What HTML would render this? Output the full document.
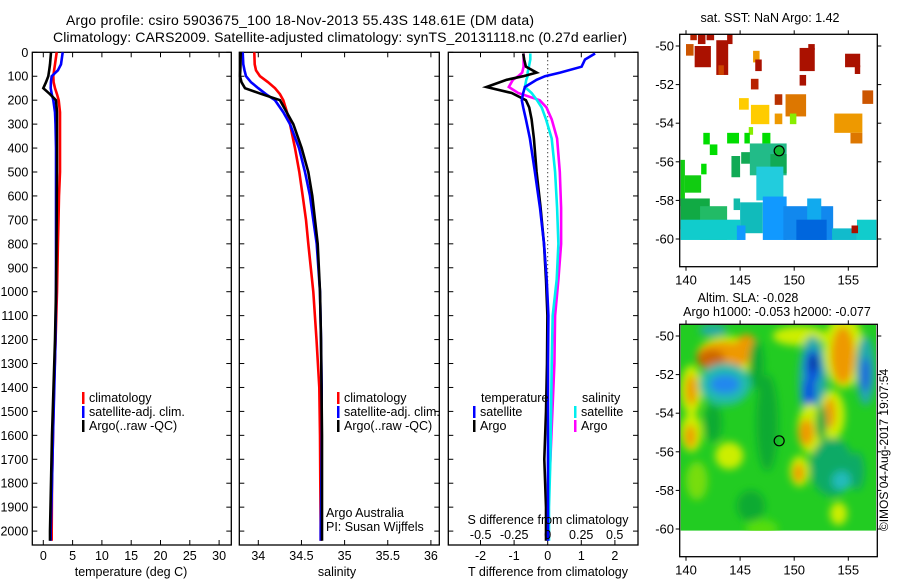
<!DOCTYPE html>
<html><head><meta charset="utf-8"><style>
html,body{margin:0;padding:0;background:#fff;width:900px;height:580px;overflow:hidden;}
svg{display:block;font-family:"Liberation Sans",sans-serif;}
</style></head><body>
<svg id="fig" width="900" height="580" viewBox="0 0 900 580">
<defs>
<filter id="blur" x="-50%" y="-50%" width="200%" height="200%"><feGaussianBlur stdDeviation="4"/></filter>
<clipPath id="slaClip"><rect x="680.6" y="325" width="195.4" height="205.7"/></clipPath>
</defs>
<text x="300" y="25" font-size="14" text-anchor="middle" textLength="468">Argo profile: csiro 5903675_100 18-Nov-2013 55.43S 148.61E (DM data)</text>
<text x="340" y="42" font-size="14" text-anchor="middle" textLength="574">Climatology: CARS2009. Satellite-adjusted climatology: synTS_20131118.nc (0.27d earlier)</text>
<g id="g1"></g>
<g id="g2"></g>
<g id="g3"></g>
<g id="m1"></g>
<g id="m2"></g>
<text transform="translate(888,450) rotate(-90)" font-size="12" text-anchor="middle">©IMOS 04-Aug-2017 19:07:54</text>
</svg>
<script>
// ---- profile data ----
const depths = [0,50,75,100,125,150,175,200,250,300,400,500,600,700,800,1000,1200,1400,1600,1800,2000,2040];
const tempArgo = [1.31,1.14,1.0,0.85,0.46,0.0,1.14,2.17,2.34,2.34,2.34,2.34,2.3,2.28,2.25,2.17,2.0,1.74,1.48,1.31,1.14,1.14];
const tempClim = [2.29,2.0,1.85,1.71,1.75,2.0,2.34,2.63,2.85,2.85,2.85,2.85,2.68,2.6,2.5,2.34,2.1,1.83,1.66,1.48,1.43,1.43];
const tempSat  = [3.31,3.02,2.5,1.43,1.3,1.26,1.45,1.71,2.0,2.08,2.17,2.17,2.17,2.17,2.17,2.17,2.08,1.88,1.66,1.48,1.26,1.26];
const salArgo = [33.796,33.794,33.791,33.788,33.805,33.846,34.043,34.251,34.329,34.406,34.503,34.579,34.626,34.657,34.688,34.715,34.727,34.732,34.738,34.738,34.738,34.738];
const salClim = [33.954,33.958,33.973,34.02,34.112,34.194,34.251,34.29,34.333,34.367,34.425,34.475,34.514,34.553,34.579,34.637,34.674,34.707,34.715,34.718,34.723,34.723];
const salSat  = [33.819,33.826,33.84,33.857,33.915,34.0,34.089,34.194,34.29,34.367,34.472,34.541,34.599,34.637,34.677,34.715,34.727,34.735,34.735,34.73,34.723,34.723];
const diffDepths = [5,30,60,85,100,115,145,170,200,230,280,360,500,650,800,950,1100,1300,1500,1700,1900,2040];
const dTSat  = [1.41,1.11,1.01,0.37,-0.08,-0.33,-0.68,-0.73,-0.77,-0.73,-0.65,-0.53,-0.38,-0.23,-0.11,-0.03,0.02,0.01,0.01,0.01,0.01,0.01];
const dTArgo = [-0.73,-0.70,-0.65,-0.33,-0.73,-1.22,-1.82,-1.07,-0.65,-0.55,-0.48,-0.41,-0.33,-0.21,-0.11,-0.05,-0.01,-0.02,-0.05,-0.1,-0.05,-0.05];
const dSSat  = [-0.13,-0.13,-0.14,-0.15,-0.15,-0.16,-0.17,-0.12,-0.08,-0.045,-0.013,0.03,0.055,0.07,0.08,0.067,0.037,0.03,0.025,0.02,0.01,0.01];
const dSArgo = [-0.18,-0.18,-0.18,-0.19,-0.22,-0.26,-0.29,-0.22,-0.06,-0.01,0.03,0.07,0.09,0.10,0.10,0.08,0.055,0.05,0.035,0.02,0.0,0.0];
const depthTicks = [0,100,200,300,400,500,600,700,800,900,1000,1100,1200,1300,1400,1500,1600,1700,1800,1900,2000];
const tempTicks = [0,5,10,15,20,25,30];
const salTicks = [34,34.5,35,35.5,36];
const dTTicks = [-2,-1,0,1,2];
const dSTicks = [-0.5,-0.25,0,0.25,0.5];
// ---- map data ----
const lonTicks = [140,145,150,155];
const latTicks = [-50,-52,-54,-56,-58,-60];
const argoLon = 148.61, argoLat = -55.43;
// SST blocks: [lonW, lonE, latN, latS, colour]
const sstBlocks = [
[140.0,140.7,-49.9,-50.5,'#cc5500'],[140.4,141.0,-49.4,-49.7,'#b82200'],[141.1,141.8,-49.4,-49.9,'#aa1100'],[141.9,142.6,-49.4,-49.7,'#aa1100'],
[140.8,142.3,-50.0,-51.1,'#aa1100'],[142.8,143.9,-49.7,-51.5,'#aa1100'],[143.8,144.3,-49.4,-49.9,'#aa1100'],[143.0,143.5,-51.0,-51.5,'#cc4400'],
[146.2,146.8,-50.25,-50.85,'#ee9900'],[146.4,147.0,-50.7,-51.3,'#aa1100'],[146.0,146.7,-51.7,-52.25,'#b82200'],[148.2,148.9,-52.5,-53.05,'#b83000'],
[150.5,151.9,-50.1,-51.3,'#aa1100'],[151.3,151.9,-49.9,-50.2,'#aa1100'],[150.5,151.1,-51.5,-52.05,'#aa1100'],[154.7,156.1,-50.4,-51.1,'#aa1100'],[155.6,156.1,-51.0,-51.45,'#aa1100'],
[156.3,157.3,-52.3,-53.0,'#cc5500'],[149.2,151.1,-52.5,-53.65,'#dd7700'],[148.2,148.9,-53.5,-54.05,'#ee9900'],[153.7,156.3,-53.5,-54.5,'#ee9900'],[155.2,156.3,-54.5,-55.05,'#dd7700'],
[144.9,145.8,-52.7,-53.3,'#ffcc00'],[146.0,147.7,-53.05,-54.05,'#ffcc00'],[149.6,150.2,-53.5,-54.05,'#88ee00'],[145.8,146.2,-54.2,-54.6,'#88ee00'],
[141.6,142.2,-54.5,-55.1,'#00dd00'],[142.2,142.9,-55.1,-55.65,'#00dd00'],[143.8,144.9,-54.5,-55.05,'#00dd00'],[145.4,145.9,-54.5,-55.05,'#00dd00'],[147.05,147.8,-54.5,-55.05,'#00dd00'],
[139.5,139.9,-55.9,-58.3,'#11cc11'],[139.9,141.4,-56.7,-57.6,'#11cc11'],[141.4,141.9,-56.1,-56.65,'#00dd00'],
[144.2,145.0,-55.7,-56.8,'#11aa55'],[145.1,146.4,-55.5,-56.1,'#11aa55'],[145.9,149.3,-55.05,-56.7,'#22bb88'],[147.8,149.3,-55.6,-56.6,'#11aa55'],
[139.5,142.2,-57.9,-59.5,'#11aa44'],[141.3,143.8,-58.3,-60.05,'#22bb66'],[146.5,149.0,-56.25,-58.0,'#22ccdd'],
[139.5,145.0,-59.0,-60.05,'#11cccc'],[144.4,145.0,-57.9,-58.5,'#11bbaa'],[145.0,147.1,-58.1,-59.7,'#11bbbb'],[155.8,157.6,-59.0,-60.05,'#11cccc'],
[147.1,149.3,-57.8,-60.05,'#1199ff'],[149.0,153.6,-58.3,-60.05,'#1188ee'],[151.2,152.5,-57.9,-59.0,'#11aaee'],[150.2,153.0,-59.0,-60.05,'#0066dd'],
[153.5,155.8,-59.45,-60.05,'#11bbcc'],[144.7,145.5,-59.3,-60.05,'#1199ff'],[155.3,155.9,-59.3,-59.7,'#aa1100']
];
// SLA blobs: [lon, lat, rLon, rLat, colour]
const slaBlobs = [
[150.5,-50.0,2.5,0.5,'#ccee00'],[144.0,-51.0,3.0,1.0,'#ccee00'],[143.5,-51.0,2.5,0.7,'#ee9900'],[142.3,-51.2,1.3,0.5,'#cc6600'],[145.6,-50.6,1.0,0.7,'#ee9900'],
[140.5,-52.8,1.0,1.3,'#ccee00'],[140.5,-52.8,0.5,0.8,'#ee9900'],
[143.6,-52.5,2.4,1.1,'#22bbaa'],[143.6,-52.5,1.4,0.5,'#2288ee'],[142.5,-49.7,1.3,0.3,'#22aaaa'],
[151.7,-52.3,1.3,2.3,'#22aaaa'],[151.7,-51.6,0.7,0.9,'#1155dd'],[151.4,-52.9,0.6,0.8,'#1155dd'],[151.8,-51.4,0.35,0.45,'#113399'],
[154.6,-50.8,1.9,1.9,'#ccee00'],[154.5,-51.0,1.1,1.5,'#ee9900'],[156.6,-51.8,0.9,1.8,'#22aaaa'],[156.6,-52.0,0.45,0.9,'#2266dd'],
[140.5,-55.0,1.0,1.0,'#ccee00'],[140.4,-55.2,0.5,0.6,'#ee9900'],[144.0,-56.2,1.3,0.7,'#ccee00'],
[151.5,-54.8,1.2,1.3,'#ccee00'],[151.1,-55.0,0.7,0.7,'#ee9900'],[153.5,-54.1,1.2,1.3,'#ccee00'],[153.3,-54.0,0.5,0.8,'#ee9900'],[152.5,-54.5,0.5,0.9,'#11aa44'],
[150.5,-57.0,0.9,0.8,'#ccee00'],[150.4,-57.1,0.5,0.5,'#ee9900'],[152.4,-56.8,0.8,0.8,'#ee9900'],
[153.5,-56.8,2.0,1.5,'#11aa66'],[154.4,-57.5,0.9,0.5,'#22bbbb'],[155.8,-57,0.7,1.0,'#11aa66'],[154.1,-59.2,0.8,0.6,'#ccee00'],
[147.5,-54.5,1.0,2.5,'#11aa33'],[146.5,-51.5,0.7,1.3,'#11aa33'],[142.5,-54.5,0.8,1.0,'#11aa33'],[146.0,-58.8,1.3,0.8,'#11aa33'],
[141.0,-57.5,1.0,1.0,'#77dd11'],[147.0,-60.0,1.5,0.5,'#55dd11']
];

const NS='http://www.w3.org/2000/svg';
function mk(parent, tag, attrs){const e=document.createElementNS(NS,tag);for(const k in attrs)e.setAttribute(k,attrs[k]);parent.appendChild(e);return e;}
const yD = d => 52.3 + d*0.2394;
const TOP=52.3, BOT=545;

function frame(g,x0,x1,yTicksLabel){
  const r=mk(g,'rect',{x:x0,y:TOP,width:x1-x0,height:BOT-TOP,fill:'none',stroke:'#000','stroke-width':1.3});
  
  
  depthTicks.forEach(d=>{
    const y=yD(d);
    mk(g,'line',{x1:x0,x2:x0+5,y1:y,y2:y,stroke:'#000'});
    mk(g,'line',{x1:x1,x2:x1-5,y1:y,y2:y,stroke:'#000'});
    if(yTicksLabel){
      const t=mk(g,'text',{x:x0-4,y:y+4.5,'font-size':12.5,'text-anchor':'end'});
      t.textContent=d;
      
      
    }
  });
}
function xTicks(g,vals,sx,labels){
  vals.forEach(v=>{
    const x=sx(v);
    mk(g,'line',{x1:x,x2:x,y1:TOP,y2:TOP+5,stroke:'#000'});
    mk(g,'line',{x1:x,x2:x,y1:BOT,y2:BOT-5,stroke:'#000'});
    if(labels){
      const t=mk(g,'text',{x:x,y:560,'font-size':12.5,'text-anchor':'middle'});
      t.textContent=v;
      
      
    }
  });
}
function line(g,dep,vals,sx,col,name){
  const pts=dep.map((d,i)=>sx(vals[i]).toFixed(1)+','+yD(d).toFixed(1)).join(' ');
  const p=mk(g,'polyline',{points:pts,fill:'none',stroke:col,'stroke-width':2.6,'stroke-linejoin':'miter'});
  
  
}
function txt(g,x,y,s,anchor,name,size){
  const t=mk(g,'text',{x:x,y:y,'font-size':size||12.5,'text-anchor':anchor||'start'});
  t.textContent=s;
  
  
  return t;
}
function legend(g,bx,y,col,label,name){
  const r=mk(g,'rect',{x:bx,y:y-10,width:2.5,height:12,fill:col});
  
  
  txt(g,bx+7,y,label,'start',name);
}

// Panel 1 temperature
const g1=document.getElementById('g1');
const sxT=v=>43.3+v*5.86;
frame(g1,32.3,231.3,true);
xTicks(g1,tempTicks,sxT,true);
line(g1,depths,tempClim,sxT,'#ff0000','temp-climatology-line');
line(g1,depths,tempSat,sxT,'#0000ff','temp-satellite-line');
line(g1,depths,tempArgo,sxT,'#000000','temp-argo-line');
legend(g1,82,402,'#f00','climatology','legend-climatology');
legend(g1,82,416,'#00f','satellite-adj. clim.','legend-satellite');
legend(g1,82,430,'#000','Argo(..raw -QC)','legend-argo');
txt(g1,131,576,'temperature (deg C)','middle','x-axis-title-temperature');

// Panel 2 salinity
const g2=document.getElementById('g2');
const sxS=v=>258.3+(v-34)*86.3;
frame(g2,239.3,439.3,false);
xTicks(g2,salTicks,sxS,true);
line(g2,depths,salClim,sxS,'#ff0000','sal-climatology-line');
line(g2,depths,salSat,sxS,'#0000ff','sal-satellite-line');
line(g2,depths,salArgo,sxS,'#000000','sal-argo-line');
legend(g2,337,402,'#f00','climatology','legend-climatology');
legend(g2,337,416,'#00f','satellite-adj. clim.','legend-satellite');
legend(g2,337,430,'#000','Argo(..raw -QC)','legend-argo');
txt(g2,326,517,'Argo Australia','start','credit-argo-australia');
txt(g2,326,531,'PI: Susan Wijffels','start','credit-pi');
txt(g2,337,576,'salinity','middle','x-axis-title-salinity');

// Panel 3 differences
const g3=document.getElementById('g3');
const sxDT=v=>547.7+v*33.6;
const sxDS=v=>547.7+v*134;
frame(g3,448.3,638,false);
xTicks(g3,dTTicks,sxDT,true);
mk(g3,'line',{x1:547.7,x2:547.7,y1:TOP,y2:yD(1150),stroke:'#000','stroke-dasharray':'1,3'});
line(g3,diffDepths,dSArgo,sxDS,'#ff00ff','sdiff-argo-line');
line(g3,diffDepths,dSSat,sxDS,'#00eeee','sdiff-satellite-line');
line(g3,diffDepths,dTArgo,sxDT,'#000000','tdiff-argo-line');
line(g3,diffDepths,dTSat,sxDT,'#0000ff','tdiff-satellite-line');
txt(g3,481,402,'temperature','start','legend-temperature-heading');
legend(g3,473,416,'#00f','satellite','legend-t-satellite');
legend(g3,473,430,'#000','Argo','legend-t-argo');
txt(g3,582,402,'salinity','start','legend-salinity-heading');
legend(g3,574,416,'#0ee','satellite','legend-s-satellite');
legend(g3,574,430,'#f0f','Argo','legend-s-argo');
txt(g3,548,524,'S difference from climatology','middle','s-axis-title');
dSTicks.forEach(v=>txt(g3,sxDS(v),539,String(v),'middle','s-tick-label'));
txt(g3,548,576,'T difference from climatology','middle','x-axis-title-tdiff');

// Maps
const lx=lon=>686+(lon-140)*10.82;
function mapFrame(g,y0,latY){
  const box=mk(g,'rect',{x:679.7,y:y0,width:197.6,height:232.4,fill:'none',stroke:'#000','stroke-width':1.3});
  
  
  lonTicks.forEach(l=>{
    const x=lx(l);
    mk(g,'line',{x1:x,x2:x,y1:y0,y2:y0-4,stroke:'#000'});
    mk(g,'line',{x1:x,x2:x,y1:y0+232.4,y2:y0+236.4,stroke:'#000'});
    txt(g,x,y0+250,String(l),'middle','lon-tick-label',13);
  });
  latTicks.forEach(l=>{
    const y=latY(l);
    mk(g,'line',{x1:679.7,x2:675.7,y1:y,y2:y,stroke:'#000'});
    mk(g,'line',{x1:877.3,x2:881.3,y1:y,y2:y,stroke:'#000'});
    txt(g,674,y+4.5,String(l),'end','lat-tick-label',13);
  });
}
// SST map
const m1=document.getElementById('m1');
const ly1=lat=>46+(-50-lat)*19.3;
sstBlocks.forEach(b=>{
  const r=mk(m1,'rect',{x:lx(b[0]),y:ly1(b[2]),width:lx(b[1])-lx(b[0]),height:ly1(b[3])-ly1(b[2]),fill:b[4]});
  
  
});
mapFrame(m1,34.3,ly1);
const c1=mk(m1,'circle',{cx:lx(argoLon),cy:ly1(argoLat),r:5,fill:'#11bb33',stroke:'#000','stroke-width':1.2});


txt(m1,770,22,'sat. SST: NaN Argo: 1.42','middle','sst-map-title');

// SLA map
const m2=document.getElementById('m2');
const ly2=lat=>336+(-50-lat)*19.3;
const field=mk(m2,'g',{'clip-path':'url(#slaClip)'});
mk(field,'rect',{x:680.6,y:325,width:195.4,height:205.7,fill:'#22cc22'});
const fb=mk(field,'g',{filter:'url(#blur)'});
slaBlobs.forEach(b=>{
  const e=mk(fb,'ellipse',{cx:lx(b[0]),cy:ly2(b[1]),rx:b[2]*10.82,ry:b[3]*19.3,fill:b[4]});
  
  
});
mapFrame(m2,324.3,ly2);
const c2=mk(m2,'circle',{cx:lx(argoLon),cy:ly2(argoLat),r:5,fill:'none',stroke:'#000','stroke-width':1.2});


txt(m2,748,302,'Altim. SLA: -0.028','middle','sla-map-title');
txt(m2,777,316,'Argo h1000: -0.053 h2000: -0.077','middle','sla-map-subtitle');
</script>
</body></html>
